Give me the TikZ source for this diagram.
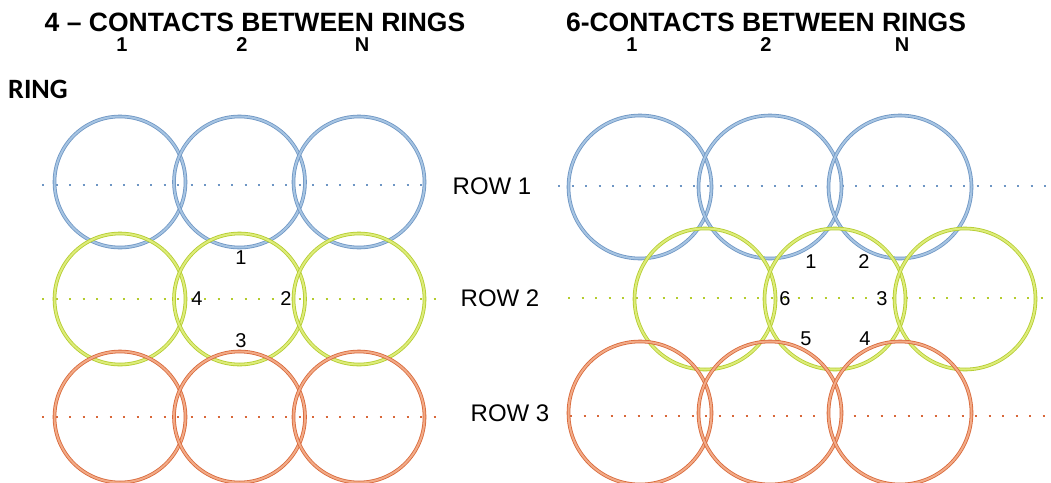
\documentclass[tikz,border=0pt]{standalone}
\usepackage{fontspec}
\setmainfont{Liberation Sans}
\newfontfamily\ringfont{Carlito}
\definecolor{bluering}{HTML}{A6C4E2}
\definecolor{bluedark}{HTML}{6E96C4}
\definecolor{greenring}{HTML}{DDEC7A}
\definecolor{greendark}{HTML}{B4CC2E}
\definecolor{redring}{HTML}{F2AA86}
\definecolor{reddark}{HTML}{D8683A}
\newcommand\hd[1]{{\fontsize{20}{22}\selectfont\bfseries #1}}
\newcommand\ct[1]{{\fontsize{20}{22}\selectfont #1}}
\begin{document}
\begin{tikzpicture}[x=1pt,y=-1pt,
  ring/.style={circle, inner sep=0pt, line width=0.8pt, double distance=2pt},
  bring/.style={ring, draw=bluedark, double=bluering},
  gring/.style={ring, draw=greendark, double=greenring},
  rring/.style={ring, draw=reddark, double=redring},
  dots/.style={line width=2pt, dash pattern=on 2pt off 11.5pt},
  title/.style={font=\fontsize{26.5}{30}\selectfont\bfseries},
  numhead/.style={inner sep=0pt},
  rowlab/.style={font=\fontsize{24}{26}\selectfont},
  touchnum/.style={inner sep=0pt}
]
\useasboundingbox (0,0) rectangle (1051,482);
\fill[white] (0,0) rectangle (1051,482);

% titles
\node[title] (t1) at (255,22) {4 – CONTACTS BETWEEN RINGS};
\node[title] (t2) at (766,22) {6-CONTACTS BETWEEN RINGS};
\node[font=\ringfont\fontsize{28}{30}\selectfont\bfseries] (ring) at (38,89) {RING};

% column headers
\node[numhead] (hl1) at (122,45) {\hd{1}};
\node[numhead] (hl2) at (242,45) {\hd{2}};
\node[numhead] (hlN) at (362,45) {\hd{N}};
\node[numhead] (hr1) at (632,45) {\hd{1}};
\node[numhead] (hr2) at (766,45) {\hd{2}};
\node[numhead] (hrN) at (902,45) {\hd{N}};

% row labels
\node[rowlab] (row1) at (492,186) {ROW 1};
\node[rowlab] (row2) at (500,298) {ROW 2};
\node[rowlab] (row3) at (510,413) {ROW 3};

% ---------- left panel: square packing ----------
\coordinate (lb0) at (42,185);  \coordinate (lb1) at (426,185);
\coordinate (lg0) at (42,299);  \coordinate (lg1) at (441,299);
\coordinate (lr0) at (42,417);  \coordinate (lr1) at (439,417);
\draw[dots, bluedark] (lb0) -- (lb1);
\draw[dots, greendark] (lg0) -- (lg1);
\draw[dots, reddark] (lr0) -- (lr1);

\foreach \x/\k in {120/1,239.5/2,359/3}{
  \node[bring, minimum size=131pt] (LB\k) at (\x,182) {};
}
\foreach \x/\k in {120/1,239.5/2,359/3}{
  \node[gring, minimum size=131pt] (LG\k) at (\x,299) {};
}
\foreach \x/\k in {120/1,239.5/2,359/3}{
  \node[rring, minimum size=131pt] (LR\k) at (\x,417) {};
}

\node[touchnum] (lc1) at (241,258) {\ct{1}};
\node[touchnum] (lc4) at (197,299) {\ct{4}};
\node[touchnum] (lc2) at (286,299) {\ct{2}};
\node[touchnum] (lc3) at (241,341) {\ct{3}};

% ---------- right panel: hexagonal packing ----------
\coordinate (rb0) at (558,186);  \coordinate (rb1) at (1051,186);
\coordinate (rg0) at (568,298);  \coordinate (rg1) at (1051,298);
\coordinate (rr0) at (570,416);  \coordinate (rr1) at (1051,416);
\draw[dots, bluedark] (rb0) -- (rb1);
\draw[dots, greendark] (rg0) -- (rg1);
\draw[dots, reddark] (rr0) -- (rr1);

\foreach \x/\k in {640/1,770/2,900/3}{
  \node[bring, minimum size=143pt] (RB\k) at (\x,187) {};
}
\foreach \x/\k in {705/1,835/2,965/3}{
  \node[gring, minimum size=141pt] (RG\k) at (\x,299) {};
}
\foreach \x/\k in {640/1,770/2,900/3}{
  \node[rring, minimum size=143pt] (RR\k) at (\x,413) {};
}

\node[touchnum] (rc1) at (811,262) {\ct{1}};
\node[touchnum] (rc2) at (864,262) {\ct{2}};
\node[touchnum] (rc6) at (785,299) {\ct{6}};
\node[touchnum] (rc3) at (882,299) {\ct{3}};
\node[touchnum] (rc5) at (806,339) {\ct{5}};
\node[touchnum] (rc4) at (865,339) {\ct{4}};
\end{tikzpicture}
\end{document}
